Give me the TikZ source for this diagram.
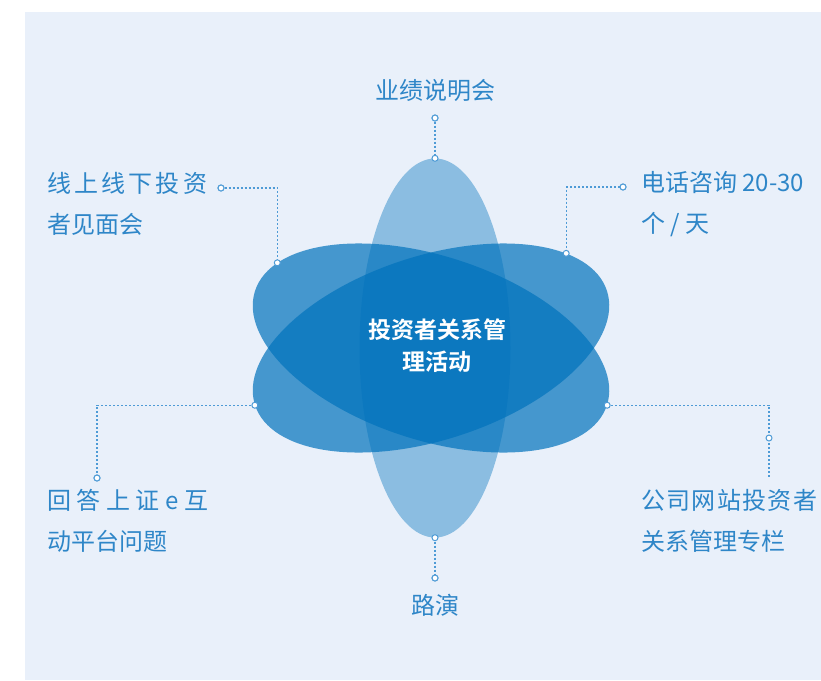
\documentclass[tikz,border=0pt]{standalone}
\usepackage{fontspec}
\setmainfont{Noto Sans CJK SC}[BoldFont={Noto Sans CJK SC Bold}]
\usetikzlibrary{shapes.geometric,positioning}
\definecolor{petal}{RGB}{0,114,188}
\definecolor{bg}{RGB}{233,240,250}
\definecolor{txt}{RGB}{46,134,200}
\definecolor{lead}{RGB}{78,155,214}
\newcommand\spread[2]{\makebox[#1]{#2}}

\begin{document}
\begin{tikzpicture}[x=1pt, y=-1pt,
  petal/.style={ellipse, fill=petal, fill opacity=0.7, inner sep=0pt,
    minimum width=370pt, minimum height=184pt},
  lbl/.style={text=txt, font=\fontsize{24}{41}\selectfont, inner sep=0pt, align=left},
  leadline/.style={lead, line width=1.2pt, dash pattern=on 2pt off 2pt},
  tip/.style={circle, draw=lead, fill=white, line width=1pt, inner sep=0pt, minimum size=6pt}]
  \useasboundingbox (0,0) rectangle (821,680);
  \fill[bg] (25,12) rectangle (821,680);

  \node[petal, fill opacity=0.4, minimum width=151pt, minimum height=379pt] (v) at (435,348) {};
  \node[petal, rotate=-18] (a) at (431,348) {};
  \node[petal, rotate=18] (b) at (431,348) {};
  \node[white, font=\bfseries\fontsize{23}{32}\selectfont, align=center] (c) at (437,346) {投资者关系管\\理活动};

  \node[lbl, anchor=south] (t) at (435,102) {业绩说明会};
  \node[lbl, anchor=north] (s) at (435,594) {路演};
  \node[lbl, anchor=west] (ul) at (47,204) {\spread{160pt}{线\hfill 上\hfill 线\hfill 下\hfill 投\hfill 资}\\者见面会};
  \node[lbl, anchor=west] (ur) at (641,204) {电话咨询 20-30\\个 / 天};
  \node[lbl, anchor=west] (ll) at (47,521) {\spread{161pt}{回\hfill 答\hfill 上\hfill 证\hfill e\hfill 互}\\动平台问题};
  \node[lbl, anchor=west] (lr) at (641,521) {\spread{176pt}{公\hfill 司\hfill 网\hfill 站\hfill 投\hfill 资\hfill 者}\\关系管理专栏};

  \coordinate (vt) at (v.north);
  \coordinate (vb) at (v.south);
  \coordinate (pa) at (a.169);
  \coordinate (pb) at (b.17);
  \coordinate (pl) at (b.west);
  \coordinate (pr) at (a.east);
  \node[tip] (e1) at (435,118) {};
  \node[tip] (e2) at (435,578) {};
  \node[tip] (e3) at (221,188) {};
  \node[tip] (e4) at (623,187) {};
  \node[tip] (e5) at (97,478) {};
  \coordinate (e6) at (769,478);

  \draw[leadline] (e1) -- (vt);
  \draw[leadline] (vb) -- (e2);
  \draw[leadline] (e3) -| (pa);
  \draw[leadline] (e4) -| (pb);
  \draw[leadline] (pl) -| (e5);
  \draw[leadline] (pr) -| (e6);

  \node[tip] (d1) at (vt) {};
  \node[tip] (d2) at (vb) {};
  \node[tip] (d3) at (pa) {};
  \node[tip] (d4) at (pb) {};
  \node[tip] (d5) at (pl) {};
  \node[tip] (d6) at (pr) {};
  \node[tip] (d7) at (769,438) {};
  \node[tip] at (e1) {};
  \node[tip] at (e2) {};
  \node[tip] at (e3) {};
  \node[tip] at (e4) {};
  \node[tip] at (e5) {};
\end{tikzpicture}
\end{document}
